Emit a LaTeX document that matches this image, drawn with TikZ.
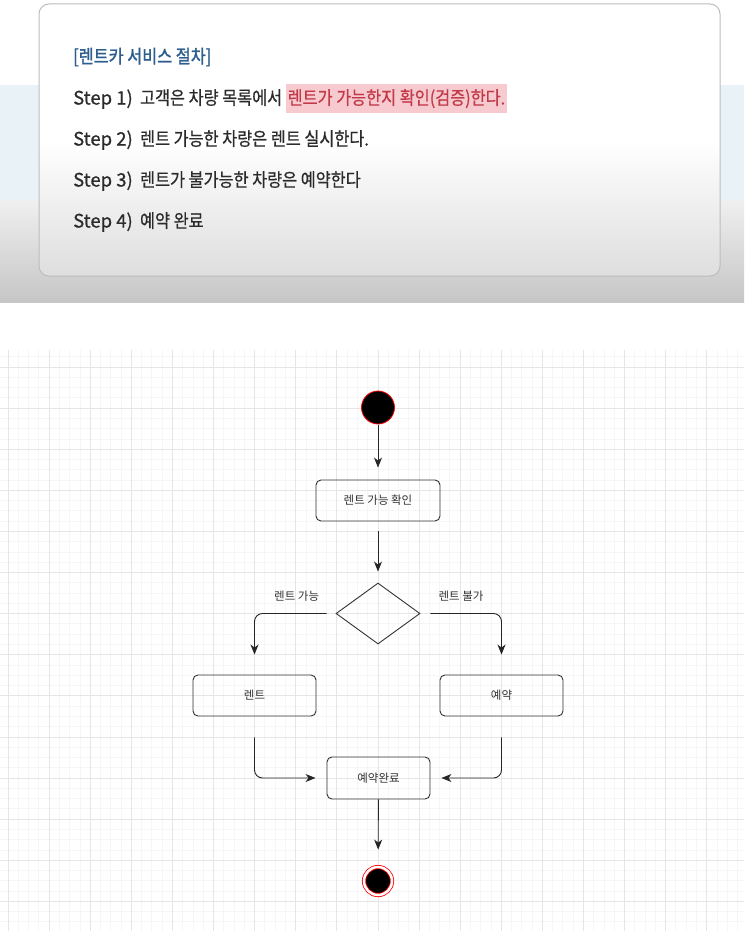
\documentclass[tikz,border=0pt]{standalone}
\usepackage{fontspec}
\usepackage{xcolor}
\usetikzlibrary{arrows.meta, shapes.geometric, positioning}

\newfontfamily\krfont[FakeStretch=0.88, FakeBold=0.6]{Noto Sans CJK KR}
\newfontfamily\krlat[FakeBold=0.6]{Noto Sans CJK KR}
\newfontfamily\krhead[FakeStretch=0.88, FakeBold=1.4]{Noto Sans CJK KR}
\newfontfamily\krdiag{Noto Sans CJK KR}

\definecolor{headblue}{HTML}{2E5E8E}
\definecolor{hlpink}{HTML}{F6CACE}
\definecolor{hlred}{HTML}{C23A4A}
\definecolor{txt}{HTML}{2B2B2B}
\definecolor{bandblue}{HTML}{E9F2F7}
\definecolor{boxline}{HTML}{BDBDBD}
\definecolor{gridmajor}{HTML}{E6E6E6}
\definecolor{gridminor}{HTML}{F6F6F6}

\newcommand{\stepno}[1]{{\krlat Step #1)}\ \ }

\tikzset{
  steptext/.style = {inner sep=0pt, text=txt, font=\krfont\fontsize{18.5}{22}\selectfont},
  hl/.style = {fill=hlpink, text=hlred, inner xsep=2pt, inner ysep=5pt, font=\krfont\fontsize{18.5}{22}\selectfont},
  act/.style = {draw=black!80, line width=0.9pt, rounded corners=5pt, minimum width=124pt,
                minimum height=41pt, text=black!80, font=\krdiag\fontsize{11.5}{13}\selectfont},
  choice/.style = {diamond, draw=black!80, line width=0.9pt, minimum width=84pt, minimum height=61pt, inner sep=0pt},
  initstate/.style = {circle, fill=black, draw=red, line width=0.8pt, minimum size=33pt, inner sep=0pt},
  finalstate/.style = {circle, fill=black, draw=red, line width=0.8pt, double=white, double distance=2.5pt,
                       minimum size=28pt, inner sep=0pt},
  flow/.style = {draw=black!85, line width=0.9pt, -{Stealth[length=10pt, width=8pt, inset=3pt]},
                 shorten <=10pt, shorten >=11pt},
  lbl/.style = {text=black!80, font=\krdiag\fontsize{11.5}{13}\selectfont}
}

\begin{document}
\begin{tikzpicture}[x=1pt, y=-1pt]
\useasboundingbox (0,0) rectangle (744,931);

\fill[white] (0,0) rectangle (744,931);
\fill[bandblue] (0,85) rectangle (744,200);
\shade[top color=gray!12, bottom color=gray!45] (0,200) rectangle (744,302);

\begin{scope}
\clip[rounded corners=10pt] (39,4) rectangle (720,276);
\fill[white] (39,4) rectangle (720,276);
\shade[top color=white, bottom color=gray!26] (39,140) rectangle (720,276);
\end{scope}
\draw[boxline, line width=1pt, rounded corners=10pt] (39,4) rectangle (720,276);

\node[steptext, font=\krhead\fontsize{18.5}{22}\selectfont, text=headblue, anchor=west] (title) at (73,57) {[렌트카 서비스 절차]};
\node[steptext, anchor=west] (s1a) at (73,99) {\stepno{1}고객은 차량 목록에서\,};
\node[hl, anchor=base west] (s1b) at (s1a.base east) {렌트가 가능한지 확인(검증)한다.};
\node[steptext, anchor=west] (s2) at (73,140) {\stepno{2}렌트 가능한 차량은 렌트 실시한다.};
\node[steptext, anchor=west] (s3) at (73,181) {\stepno{3}렌트가 불가능한 차량은 예약한다};
\node[steptext, anchor=west] (s4) at (73,222) {\stepno{4}예약 완료};

\begin{scope}
\clip (0,350) rectangle (744,931);
\begin{scope}[shift={(8,367)}]
\draw[gridminor, line width=0.8pt] (-30,-30) grid[step=10.275pt] (760,590);
\draw[gridmajor, line width=0.8pt] (-30,-30) grid[step=41.1pt] (760,590);
\end{scope}
\end{scope}

\node[initstate] (start) at (378,407.5) {};
\node[act] (check) at (378,500.5) {렌트 가능 확인};
\node[choice] (dec) at (378,613.5) {};
\node[act, minimum width=123pt] (rent) at (254.5,695.5) {렌트};
\node[act, minimum width=123pt] (resv) at (501.5,695.5) {예약};
\node[act, minimum width=103pt, minimum height=42pt] (done) at (378.5,778) {예약완료};
\node[finalstate] (end) at (378,881) {};

\draw[flow, shorten <=1pt, shorten >=12pt] (start) -- (check);
\draw[flow] (check) -- (dec);
\draw[flow, rounded corners=8pt, shorten <=9pt, shorten >=20pt] (dec.west) -|
  node[lbl, pos=0.24, above=8pt] {렌트 가능} (rent.north);
\draw[flow, rounded corners=8pt, shorten <=10pt, shorten >=20pt] (dec.east) -|
  node[lbl, pos=0.25, above=8pt] {렌트 불가} (resv.north);
\draw[flow, rounded corners=8pt, shorten <=21pt] (rent.south) |- (done.west);
\draw[flow, rounded corners=8pt, shorten <=21pt] (resv.south) |- (done.east);
\draw[flow, shorten <=0pt, shorten >=17pt] (done) -- (end);
\end{tikzpicture}
\end{document}
